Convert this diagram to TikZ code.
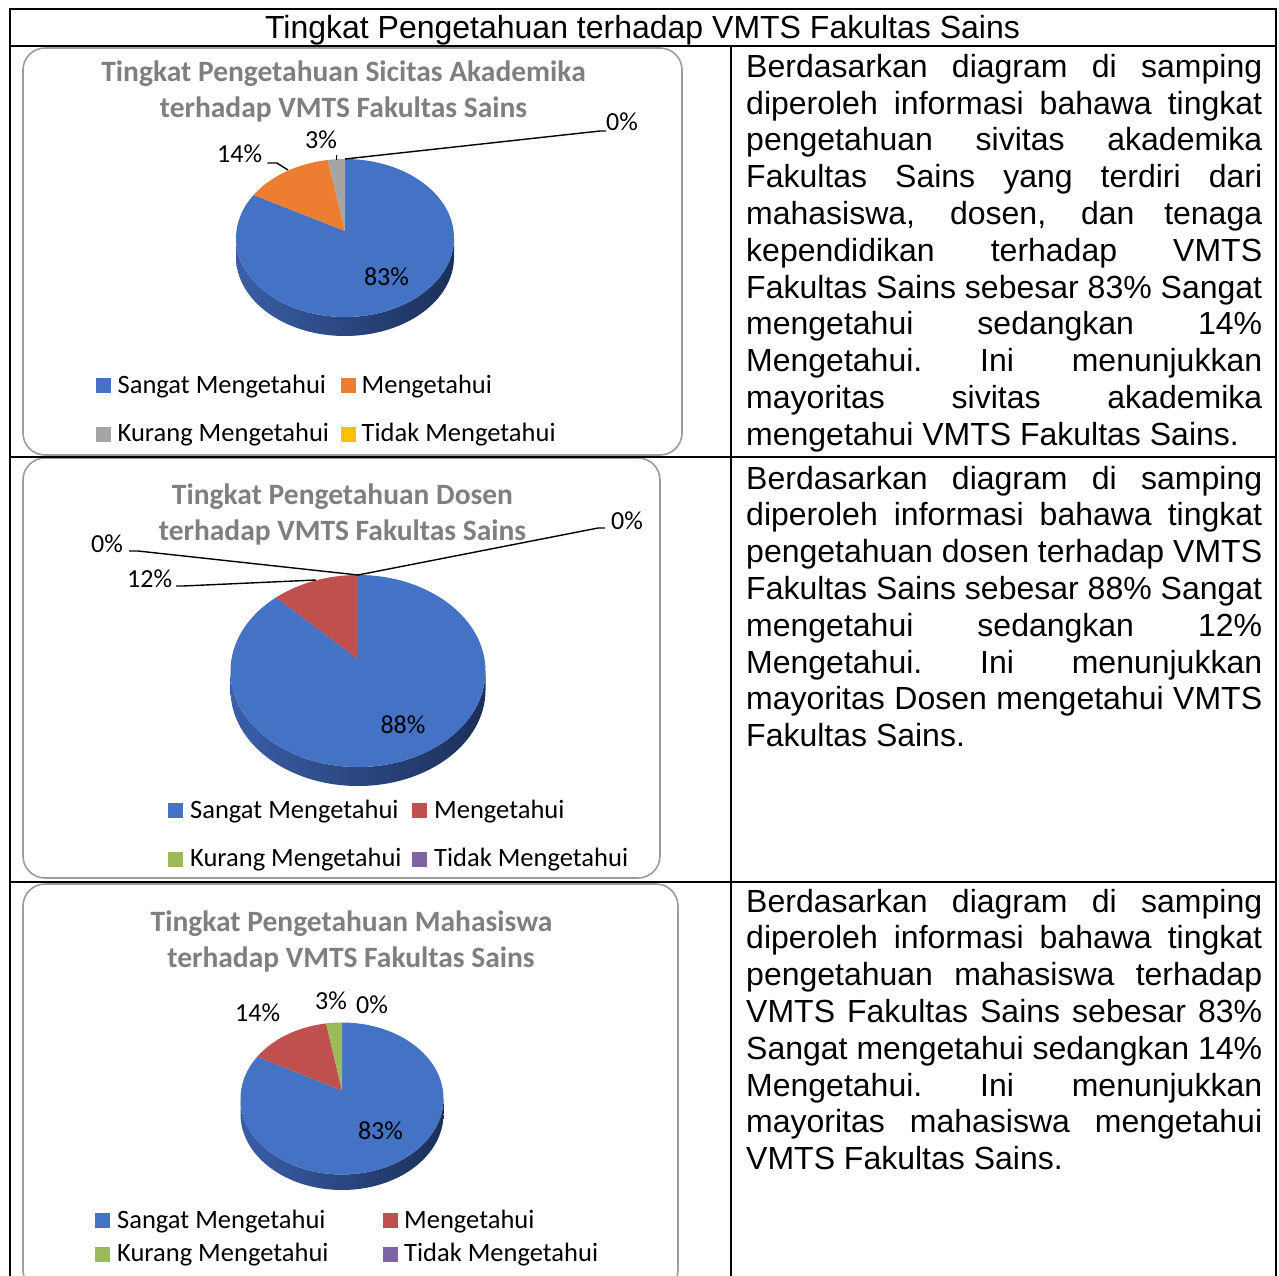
\documentclass[tikz,border=0pt]{standalone}
\usepackage{fontspec}
\newfontfamily\arialf{Liberation Sans}
\newfontfamily\calf{Carlito}
\definecolor{cBlue}{HTML}{4472C4}
\definecolor{cOrange}{HTML}{ED7D31}
\definecolor{cGray}{HTML}{A5A5A5}
\definecolor{cYellow}{HTML}{FFC000}
\definecolor{cRed}{HTML}{C0504D}
\definecolor{cGreen}{HTML}{9BBB59}
\definecolor{cPurple}{HTML}{8064A2}
\definecolor{sideL}{HTML}{3A5FA8}
\definecolor{sideM}{HTML}{22407A}
\definecolor{sideR}{HTML}{1B2F58}
\definecolor{titlegray}{HTML}{7F7F7F}
\definecolor{boxgray}{HTML}{9C9C9C}
\newcommand\jl[1]{\hbox to 516pt{\spaceskip=\fontdimen2\font plus 1fil\relax\xspaceskip=\spaceskip\relax #1}}
\tikzset{
  tbl/.style={line width=2pt, draw=black},
  chartbox/.style={draw=boxgray, line width=1.6pt, rounded corners=22pt},
  ctitle/.style={font=\calf\bfseries\fontsize{29.5}{34}\selectfont, text=titlegray, anchor=base, inner sep=0pt},
  leg/.style={font=\calf\fontsize{26.5}{30}\selectfont, anchor=base west, inner sep=0pt},
  plabel/.style={font=\calf\fontsize{26}{30}\selectfont, anchor=base west, inner sep=0pt},
  plabelc/.style={font=\calf\fontsize{26}{30}\selectfont, anchor=base, inner sep=0pt},
  leader/.style={line width=1.4pt, draw=black},
  body/.style={font=\arialf\fontsize{32}{36.8}\selectfont, anchor=base west, inner sep=0pt},
  side/.style={left color=sideL, middle color=sideM, right color=sideR},
}
\begin{document}
\begin{tikzpicture}[x=1pt,y=-1pt]
\useasboundingbox (0,0) rectangle (1279,1276);
\clip (0,0) rectangle (1279,1276);
\fill[white] (0,0) rectangle (1279,1276);

% chart boxes
\draw[chartbox] (23,48) rectangle (682,455);
\draw[chartbox] (23,458) rectangle (660,878);
\draw[chartbox] (23,884) rectangle (678,1292);

% table lines
\draw[tbl] (10,1285) -- (10,9) -- (1276,9) -- (1276,1285);
\draw[tbl] (10,46) -- (1276,46);
\draw[tbl] (731,46) -- (731,1285);
\draw[tbl] (10,457) -- (1276,457);
\draw[tbl] (10,882) -- (1276,882);

% header
\node[font=\arialf\fontsize{32}{36.8}\selectfont, anchor=base, inner sep=0pt] (head) at (642.5,38.5) {Tingkat Pengetahuan terhadap VMTS Fakultas Sains};

% ---------- chart 1 ----------
\node[ctitle] (t1a) at (343.5,82) {Tingkat Pengetahuan Sicitas Akademika};
\node[ctitle] (t1b) at (343.5,117.5) {terhadap VMTS Fakultas Sains};
\begin{scope}[shift={(345,238)}, yscale=-1]
  \shade[side] (180:109 and 79) arc[start angle=180, end angle=360, x radius=109, y radius=79] -- ++(0,-19) arc[start angle=360, end angle=180, x radius=109, y radius=79] -- cycle;
  \fill[cBlue] (0,7) -- (90:109 and 79) arc[start angle=90, end angle=-213, x radius=109, y radius=79] -- cycle;
  \fill[cOrange] (0,7) -- (147:109 and 79) arc[start angle=147, end angle=99, x radius=109, y radius=79] -- cycle;
  \fill[cGray] (0,7) -- (99:109 and 79) arc[start angle=99, end angle=90, x radius=109, y radius=79] -- cycle;
\end{scope}
\coordinate (p1top) at (345,159);
\node[plabel] (l1z) at (606,131) {0\%};
\node[plabel] (l1o) at (217,163) {14\%};
\node[plabel] (l1g) at (305,149) {3\%};
\node[plabelc] (l1b) at (386.5,285) {83\%};
\coordinate (k1a) at (600,131);
\draw[leader] (p1top) -- (k1a) -- (l1z.base west);
\coordinate (k1b) at (276.8,163);
\coordinate (k1c) at (288,170);
\draw[leader] (l1o.base east) ++(5,0) -- (k1b) -- (k1c);
\coordinate (k1d) at (336.5,155);
\coordinate (k1e) at (336.5,160);
\draw[leader] (k1d) -- (k1e);
\fill[cBlue] (96,378) rectangle (111,393);
\node[leg] (g1a) at (117.5,393) {Sangat Mengetahui};
\fill[cOrange] (341,378) rectangle (356,393);
\node[leg] (g1b) at (361.5,393) {Mengetahui};
\fill[cGray] (96,426.5) rectangle (111,441.5);
\node[leg] (g1c) at (117.5,441.5) {Kurang Mengetahui};
\fill[cYellow] (341,426.5) rectangle (356,441.5);
\node[leg] (g1d) at (361.5,441.5) {Tidak Mengetahui};

% ---------- chart 2 ----------
\node[ctitle] (t2a) at (342.5,504) {Tingkat Pengetahuan Dosen};
\node[ctitle] (t2b) at (342.5,540.7) {terhadap VMTS Fakultas Sains};
\begin{scope}[shift={(358,671)}, yscale=-1]
  \shade[side] (180:127.5 and 96) arc[start angle=180, end angle=360, x radius=127.5, y radius=96] -- ++(0,-19) arc[start angle=360, end angle=180, x radius=127.5, y radius=96] -- cycle;
  \fill[cBlue] (0,12) -- (90:127.5 and 96) arc[start angle=90, end angle=-230, x radius=127.5, y radius=96] -- cycle;
  \fill[cRed] (0,12) -- (130:127.5 and 96) arc[start angle=130, end angle=90, x radius=127.5, y radius=96] -- cycle;
\end{scope}
\coordinate (p2top) at (358,575);
\node[plabel] (l2z) at (611,529) {0\%};
\node[plabel] (l2y) at (91,552) {0\%};
\node[plabel] (l2r) at (127,587) {12\%};
\node[plabelc] (l2b) at (403,733) {88\%};
\coordinate (k2a) at (598,528);
\coordinate (k2b) at (605,528);
\draw[leader] (p2top) -- (k2a) -- (k2b);
\coordinate (k2c) at (129,551);
\coordinate (k2d) at (138,551);
\draw[leader] (k2c) -- (k2d) -- (p2top);
\coordinate (k2e) at (176,586);
\coordinate (k2f) at (183,586);
\coordinate (k2g) at (316,580);
\draw[leader] (k2e) -- (k2f) -- (k2g);
\fill[cBlue] (168,803.3) rectangle (183,818.3);
\node[leg] (g2a) at (190,818.3) {Sangat Mengetahui};
\fill[cRed] (412,803.3) rectangle (427,818.3);
\node[leg] (g2b) at (434,818.3) {Mengetahui};
\fill[cGreen] (168,851.7) rectangle (183,866.7);
\node[leg] (g2c) at (190,866.7) {Kurang Mengetahui};
\fill[cPurple] (412,851.7) rectangle (427,866.7);
\node[leg] (g2d) at (434,866.7) {Tidak Mengetahui};

% ---------- chart 3 ----------
\node[ctitle] (t3a) at (351.5,931) {Tingkat Pengetahuan Mahasiswa};
\node[ctitle] (t3b) at (351,967) {terhadap VMTS Fakultas Sains};
\begin{scope}[shift={(342,1098.5)}, yscale=-1]
  \shade[side] (180:101.5 and 76) arc[start angle=180, end angle=360, x radius=101.5, y radius=76] -- ++(0,-15.5) arc[start angle=360, end angle=180, x radius=101.5, y radius=76] -- cycle;
  \fill[cBlue] (0,8) -- (90:101.5 and 76) arc[start angle=90, end angle=-213.4, x radius=101.5, y radius=76] -- cycle;
  \fill[cRed] (0,8) -- (146.6:101.5 and 76) arc[start angle=146.6, end angle=99, x radius=101.5, y radius=76] -- cycle;
  \fill[cGreen] (0,8) -- (99:101.5 and 76) arc[start angle=99, end angle=90, x radius=101.5, y radius=76] -- cycle;
\end{scope}
\node[plabel] (l3r) at (235,1021.7) {14\%};
\node[plabel] (l3g) at (315,1009) {3\%};
\node[plabel] (l3z) at (356,1013) {0\%};
\node[plabelc] (l3b) at (380.5,1139) {83\%};
\fill[cBlue] (95,1213.3) rectangle (110,1228.3);
\node[leg] (g3a) at (117,1228.3) {Sangat Mengetahui};
\fill[cRed] (383,1213.3) rectangle (398,1228.3);
\node[leg] (g3b) at (404,1228.3) {Mengetahui};
\fill[cGreen] (95,1246.7) rectangle (110,1261.7);
\node[leg] (g3c) at (117,1261.7) {Kurang Mengetahui};
\fill[cPurple] (383,1246.7) rectangle (398,1261.7);
\node[leg] (g3d) at (404,1261.7) {Tidak Mengetahui};

% ---------- body texts ----------
\node[body] (b1) at (746,77.3) {\vtop{%
\jl{Berdasarkan diagram di samping}
\jl{diperoleh informasi bahawa tingkat}
\jl{pengetahuan sivitas akademika}
\jl{Fakultas Sains yang terdiri dari}
\jl{mahasiswa, dosen, dan tenaga}
\jl{kependidikan terhadap VMTS}
\jl{Fakultas Sains sebesar 83\% Sangat}
\jl{mengetahui sedangkan 14\%}
\jl{Mengetahui. Ini menunjukkan}
\jl{mayoritas sivitas akademika}
\hbox{mengetahui VMTS Fakultas Sains.}}};
\node[body] (b2) at (746,489) {\vtop{%
\jl{Berdasarkan diagram di samping}
\jl{diperoleh informasi bahawa tingkat}
\jl{pengetahuan dosen terhadap VMTS}
\jl{Fakultas Sains sebesar 88\% Sangat}
\jl{mengetahui sedangkan 12\%}
\jl{Mengetahui. Ini menunjukkan}
\jl{mayoritas Dosen mengetahui VMTS}
\hbox{Fakultas Sains.}}};
\node[body] (b3) at (746,912) {\vtop{%
\jl{Berdasarkan diagram di samping}
\jl{diperoleh informasi bahawa tingkat}
\jl{pengetahuan mahasiswa terhadap}
\jl{VMTS Fakultas Sains sebesar 83\%}
\jl{Sangat mengetahui sedangkan 14\%}
\jl{Mengetahui. Ini menunjukkan}
\jl{mayoritas mahasiswa mengetahui}
\hbox{VMTS Fakultas Sains.}}};
\end{tikzpicture}
\end{document}
